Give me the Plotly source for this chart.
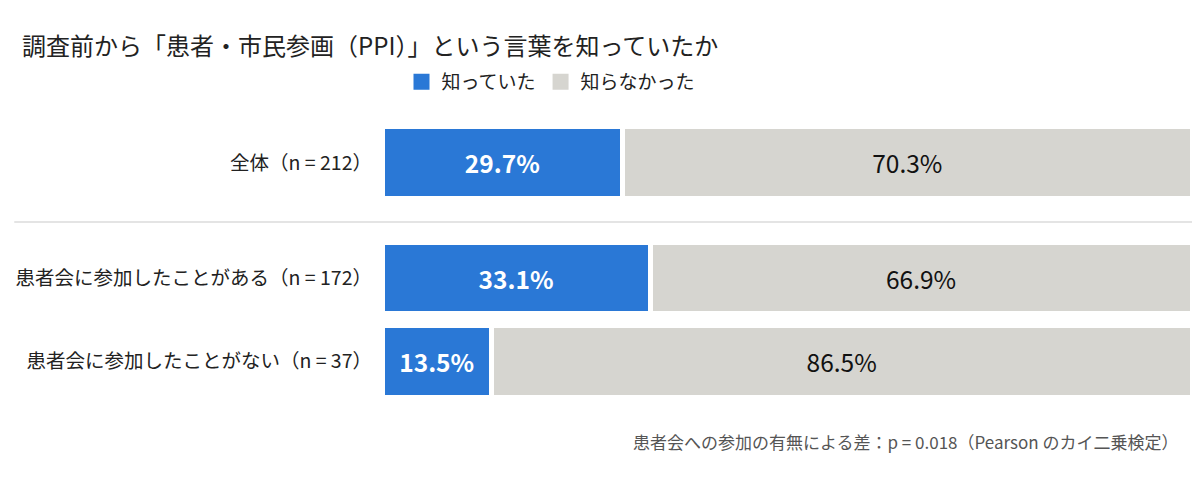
import plotly.graph_objects as go

# Data
groups = ["全体（n = 212）", "患者会に参加したことがある（n = 172）", "患者会に参加したことがない（n = 37）"]
knew = [29.7, 33.1, 13.5]
not_knew = [70.3, 66.9, 86.5]
series_names = ["知っていた", "知らなかった"]

title_text = "調査前から「患者・市民参画（PPI）」という言葉を知っていたか"
note_text = "患者会への参加の有無による差：p = 0.018（Pearson のカイ二乗検定）"

FONT = "Noto Sans CJK JP"
BLUE = "#2A78D6"
GRAY = "#D6D5D0"
colors = [BLUE, GRAY]

# row positions: first row sits apart from the two subgroups
y_pos = [0, 1.38, 2.38]

fig = go.Figure()
for vals, name, col, tcol, tw in [(knew, series_names[0], BLUE, "white", "bold"),
                                  (not_knew, series_names[1], GRAY, "#111111", "normal")]:
    fig.add_trace(go.Bar(
        y=y_pos, x=vals, orientation="h", name=name, showlegend=False,
        marker=dict(color=col, line=dict(color="white", width=5)),
        width=0.86, texttemplate="%{x:.1f}%", textposition="inside",
        insidetextanchor="middle",
        textfont=dict(family=FONT, size=24.5, color=tcol, weight=tw),
        hoverinfo="skip",
    ))

# legend entries with larger square swatches
for name, col in zip(series_names, colors):
    fig.add_trace(go.Scatter(
        x=[None], y=[None], mode="markers", name=name,
        marker=dict(symbol="square", size=16, color=col, line=dict(width=0)),
    ))

# separator between total and subgroups
fig.add_shape(type="line", xref="paper", yref="y",
              x0=-0.454, x1=1, y0=0.709, y1=0.709,
              line=dict(color="#E4E4E4", width=2))

fig.add_annotation(text=note_text, xref="paper", yref="paper",
                   x=0.9868, y=-0.128, xanchor="right", yanchor="middle",
                   showarrow=False, font=dict(family=FONT, size=17, color="#555555"))

fig.update_layout(
    width=1200, height=487,
    barmode="stack",
    paper_bgcolor="white", plot_bgcolor="white",
    margin=dict(l=374, r=15.5, t=112.75, b=90.35),
    font=dict(family=FONT, color="#222222"),
    title=dict(text=title_text, x=0.0117, xanchor="left", y=0.92, yanchor="middle",
               font=dict(family=FONT, size=24, color="#222222")),
    legend=dict(orientation="h", xref="container", yref="container",
                x=0.4525, xanchor="center", y=0.848, yanchor="middle",
                font=dict(family=FONT, size=19, color="#222222"),
                itemsizing="trace", itemwidth=30, traceorder="normal"),
    xaxis=dict(range=[0, 100], visible=False, fixedrange=True),
    yaxis=dict(range=[2.9, -0.5], tickmode="array", tickvals=y_pos, ticktext=groups,
               showgrid=False, zeroline=False, showline=False, ticks="",
               ticklabelstandoff=9, automargin=False,
               tickfont=dict(family=FONT, size=19.5, color="#222222")),
)

fig.write_html("out.html")
